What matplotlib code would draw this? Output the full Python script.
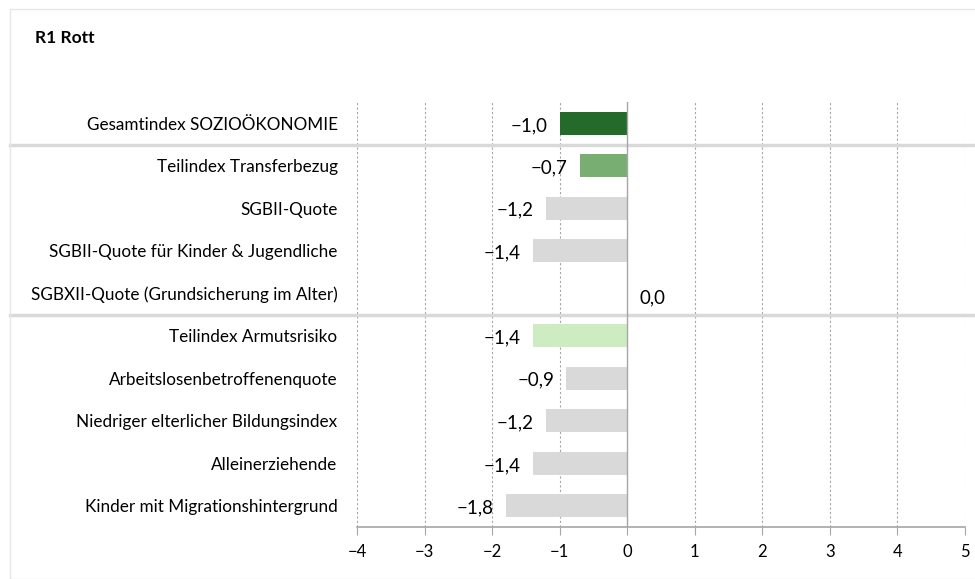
import numpy as np
import matplotlib
matplotlib.use( "Agg" )
import matplotlib.pyplot as plt
from matplotlib.patches import Rectangle

plt.rcParams['font.family'] = ['Lato', 'DejaVu Sans']

title = "R1 Rott"
labels = [ "Gesamtindex SOZIOÖKONOMIE",
           "Teilindex Transferbezug",
           "SGBII-Quote",
           "SGBII-Quote für Kinder & Jugendliche",
           "SGBXII-Quote (Grundsicherung im Alter)",
           "Teilindex Armutsrisiko",
           "Arbeitslosenbetroffenenquote",
           "Niedriger elterlicher Bildungsindex",
           "Alleinerziehende",
           "Kinder mit Migrationshintergrund" ]
values = [ -1.0, -0.7, -1.2, -1.4, 0.0, -1.4, -0.9, -1.2, -1.4, -1.8 ]
colors = [ "#236a2b", "#79ae73", "#d9d9d9", "#d9d9d9", "#d9d9d9",
           "#ceecc2", "#d9d9d9", "#d9d9d9", "#d9d9d9", "#d9d9d9" ]
separators = [ 0.5, 4.5 ]
xticks = [ -4, -3, -2, -1, 0, 1, 2, 3, 4, 5 ]

fig = plt.figure( figsize=(9.75, 5.79), dpi=100 )
fig.patches.append( Rectangle( (10/975, 0), 1, 1 - 9/579, transform=fig.transFigure,
                               fill=False, edgecolor="#e6e6e6", linewidth=1 ) )
fig.text( 35/975, 1 - 38/579, title, fontsize=12.5, fontweight="bold",
          va="center", ha="left" )

ax = fig.add_axes( [357/975, 52/579, 608/975, 425/579] )
y = np.arange( len( labels ) )
ax.barh( y, values, height=0.55, color=colors, zorder=3 )

ax.set_xlim( -4, 5 )
ax.set_ylim( len( labels ) - 0.5, -0.5 )

for xt in xticks :
    if xt == 0 :
        ax.axvline( xt, color="#a6a6a6", linewidth=1.0, zorder=4 )
    else :
        ax.axvline( xt, color="#a6a6a6", linewidth=0.8, linestyle=(0, (2, 2)), zorder=1 )

for s in separators :
    ax.plot( [-0.571, 1.02], [s, s], transform=ax.get_yaxis_transform(),
             color="#d9d9d9", linewidth=2.5, clip_on=False, zorder=2 )

for k, v in enumerate( values ) :
    txt = ( "%.1f" % v ).replace( ".", "," ).replace( "-", "\u2212" )
    if v < 0 :
        ax.text( v - 0.18, k + 0.05, txt, ha="right", va="center", fontsize=13.5, zorder=5 )
    else :
        ax.text( v + 0.18, k + 0.12, txt, ha="left", va="center", fontsize=13.5, zorder=5 )

ax.set_yticks( y )
ax.set_yticklabels( labels, fontsize=12.3 )
ax.tick_params( axis="y", length=0, pad=14 )

ax.set_xticks( xticks )
ax.set_xticklabels( [ str( t ).replace( "-", "\u2212" ) for t in xticks ], fontsize=12 )
ax.tick_params( axis="x", length=6, color="#a6a6a6", pad=6 )

for side in [ "top", "right", "left" ] :
    ax.spines[side].set_visible( False )
ax.spines["bottom"].set_color( "#a6a6a6" )
ax.spines["bottom"].set_linewidth( 1.2 )

fig.savefig( "out.png", dpi=100 )
